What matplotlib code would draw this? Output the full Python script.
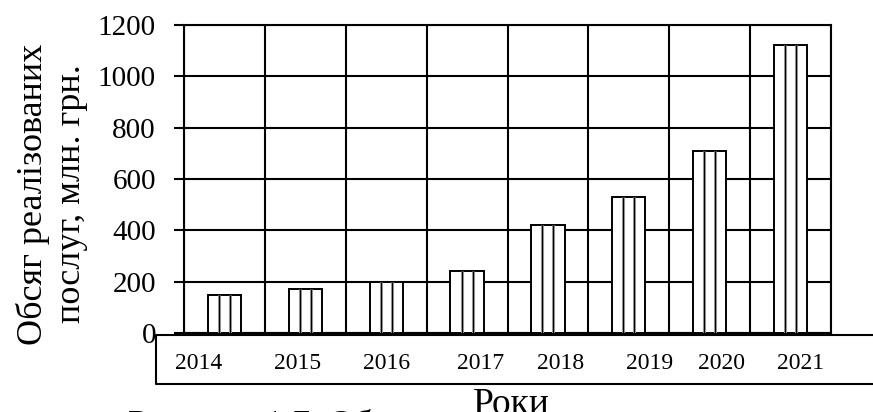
import numpy as np
import matplotlib
matplotlib.use('Agg')
import matplotlib.pyplot as plt
from matplotlib.lines import Line2D

# дані з рисунка
years = ['2014', '2015', '2016', '2017', '2018', '2019', '2020', '2021']
volume = [150, 173, 197, 243, 422, 531, 710, 1122]
yticks = [0, 200, 400, 600, 800, 1000, 1200]

# зсув підписів років (макет, як у Word)
label_shift = [-0.315, -0.09, 0.0, 0.17, 0.16, 0.26, 0.15, 0.12]

plt.rcParams['font.family'] = ['Liberation Serif', 'DejaVu Serif']

fig = plt.figure(figsize=(8.73, 4.12), dpi=100)
ax = fig.add_axes([184/873, 1-333/412, (831-184)/873, (333-25)/412])

x = np.arange(len(years))
w = 0.41

ax.bar(x, volume, width=w, color='white', edgecolor='black', linewidth=1.4, zorder=3)

# вертикальне штрихування всередині стовпців
inner = np.concatenate([x - w/6, x + w/6])
tops = np.concatenate([volume, volume])
ax.vlines(inner, 0, tops, color='#a8a8a8', linewidth=2.2, zorder=4)
ax.vlines(inner, 0, tops, color='black', linewidth=0.9, zorder=5)

ax.set_xlim(-0.5, len(years) - 0.5)
ax.set_ylim(0, 1200)
ax.set_yticks(yticks)
ax.set_xticks(x + np.array(label_shift), labels=years)
ax.set_xticks(np.arange(len(years) + 1) - 0.5, minor=True)

ax.grid(axis='y', which='major', color='black', linewidth=1.5, zorder=0)
ax.grid(axis='x', which='minor', color='black', linewidth=1.5, zorder=0)
ax.set_axisbelow(True)

ax.tick_params(axis='y', length=7.2, width=1.5, pad=13, labelsize=21, colors='black')
ax.tick_params(axis='x', which='major', length=0, pad=14.5, labelsize=17)
ax.tick_params(axis='x', which='minor', length=0)

for s in ax.spines.values():
    s.set_linewidth(1.5)
    s.set_color('black')

# рамка підписів категорій
xl = 156/873
y1 = 1 - 335/412
y2 = 1 - 384/412
fig.add_artist(Line2D([1.0, xl, xl, 1.0], [y1, y1, y2, y2], color='black',
                      linewidth=1.5, transform=fig.transFigure))

fig.text(52/873, 1-194/412, 'Обсяг реалізованих\nпослуг, млн. грн.', rotation=90,
         ha='center', va='center', multialignment='center', fontsize=26, linespacing=1.2)
fig.text(511/873, 1-388/412, 'Роки', ha='center', va='top', fontsize=27)
fig.text(128/873, 1-409/412, 'Рисунок 1.7. Об', ha='left', va='top', fontsize=26)

fig.savefig('out.png', dpi=100)
